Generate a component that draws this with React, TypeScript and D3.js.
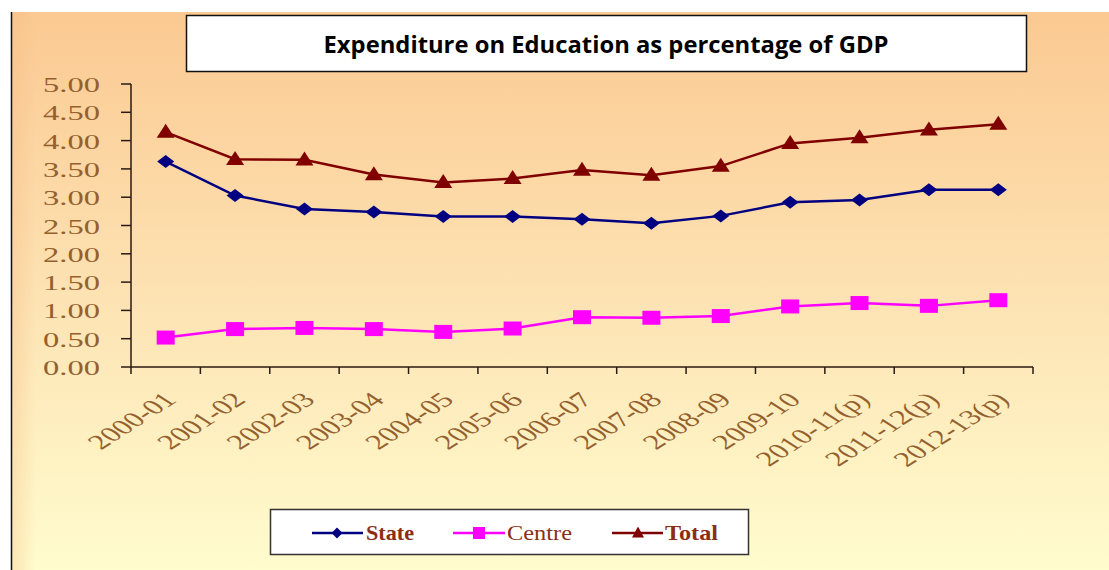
import React from "react";
import * as d3 from "d3";

const categories = ["2000-01","2001-02","2002-03","2003-04","2004-05","2005-06","2006-07","2007-08","2008-09","2009-10","2010-11(p)","2011-12(p)","2012-13(p)"];
const stateValues = [3.63,3.03,2.79,2.74,2.66,2.66,2.61,2.54,2.67,2.91,2.95,3.13,3.13];
const centreValues = [0.52,0.67,0.69,0.67,0.62,0.68,0.88,0.87,0.90,1.07,1.13,1.08,1.18];
const totalValues = [4.15,3.67,3.66,3.40,3.26,3.33,3.48,3.39,3.55,3.95,4.05,4.19,4.29];
const yTicks = [0,0.5,1,1.5,2,2.5,3,3.5,4,4.5,5];
const title = "Expenditure on Education as percentage of GDP";

const W = 1109, H = 570;
const plot = { left: 131, right: 1033, top: 84, bottom: 367 };
const labelColor = "#94602E";
const SX = 1.55;

export default function App() {
  const x = d3.scaleBand<string>().domain(categories).range([plot.left, plot.right]).paddingInner(0).paddingOuter(0);
  const y = d3.scaleLinear().domain([0, 5]).range([plot.bottom, plot.top]);
  const cx = (c: string) => (x(c) as number) + x.bandwidth() / 2;
  const line = d3.line<number>().x((_, i) => cx(categories[i])).y((v) => y(v));

  const diamond = (px: number, py: number, w: number, h: number) =>
    `M${px},${py - h / 2}L${px + w / 2},${py}L${px},${py + h / 2}L${px - w / 2},${py}Z`;
  const tri = (px: number, py: number, w: number, h: number) =>
    `M${px},${py - h * 0.6}L${px + w / 2},${py + h * 0.4}L${px - w / 2},${py + h * 0.4}Z`;

  const tickEdges = d3.range(categories.length + 1).map((i) => plot.left + i * x.bandwidth());

  return (
    <svg width={W} height={H} style={{ position: "absolute", left: 0, top: 0 }}>
      <defs>
        <linearGradient id="bg" x1="0" y1="0" x2="0" y2="1">
          <stop offset="0" stopColor="#FBC992" />
          <stop offset="0.5" stopColor="#FDE2B2" />
          <stop offset="1" stopColor="#FFFCCE" />
        </linearGradient>
        <linearGradient id="lft" x1="0" y1="0" x2="1" y2="0">
          <stop offset="0" stopColor="#F4B880" stopOpacity="0.35" />
          <stop offset="1" stopColor="#F4B880" stopOpacity="0" />
        </linearGradient>
      </defs>
      <rect x={0} y={0} width={W} height={H} fill="#ffffff" />
      <rect x={11} y={12} width={W - 11} height={H - 12} fill="url(#bg)" />
      <rect x={11} y={12} width={25} height={H - 12} fill="url(#lft)" />
      <line x1={11.5} y1={12} x2={11.5} y2={H} stroke="#111" strokeWidth={1.5} />

      {/* Title */}
      <rect x={186.5} y={15.5} width={840} height={56} fill="#fff" stroke="#111" strokeWidth={1.5} />
      <text x={606} y={53} textAnchor="middle" fontFamily="'Open Sans', sans-serif" fontWeight="bold" fontSize={23} fill="#000" textLength={565} lengthAdjust="spacingAndGlyphs">{title}</text>

      {/* Y axis */}
      <line x1={plot.left} y1={plot.top} x2={plot.left} y2={plot.bottom} stroke="#2a1a10" strokeWidth={1.5} />
      {yTicks.map((t) => (
        <g key={t}>
          <line x1={plot.left - 10} y1={y(t)} x2={plot.left} y2={y(t)} stroke="#2a1a10" strokeWidth={1.5} />
          <text transform={`translate(100,${y(t) + 8}) scale(${SX},1)`} textAnchor="end" fontFamily="'Liberation Serif', serif" fontSize={21} fill={labelColor}>{t.toFixed(2)}</text>
        </g>
      ))}

      {/* X axis */}
      <line x1={plot.left} y1={plot.bottom} x2={plot.right} y2={plot.bottom} stroke="#2a1a10" strokeWidth={1.5} />
      {tickEdges.map((e, i) => (
        <line key={i} x1={e} y1={plot.bottom} x2={e} y2={plot.bottom + 7} stroke="#2a1a10" strokeWidth={1.5} />
      ))}
      {categories.map((c) => (
        <text key={c} transform={`translate(${cx(c) + 12},${plot.bottom + 34}) scale(${SX},1) rotate(-45)`} textAnchor="end" fontFamily="'Liberation Serif', serif" fontSize={21} fill={labelColor}>{c}</text>
      ))}

      {/* Lines */}
      <path d={line(totalValues) || ""} fill="none" stroke="#800000" strokeWidth={2.5} />
      <path d={line(stateValues) || ""} fill="none" stroke="#000080" strokeWidth={2.5} />
      <path d={line(centreValues) || ""} fill="none" stroke="#FF00FF" strokeWidth={2.5} />

      {stateValues.map((v, i) => (
        <path key={"s" + i} d={diamond(cx(categories[i]), y(v), 17, 13)} fill="#000080" />
      ))}
      {centreValues.map((v, i) => (
        <rect key={"c" + i} x={cx(categories[i]) - 9} y={y(v) - 7} width={18} height={14} fill="#FF00FF" />
      ))}
      {totalValues.map((v, i) => (
        <path key={"t" + i} d={tri(cx(categories[i]), y(v), 18, 14)} fill="#800000" />
      ))}

      {/* Legend */}
      <rect x={270.5} y={509.5} width={478} height={45} fill="#fff" stroke="#333" strokeWidth={1.5} />
      <line x1={312} y1={533} x2={363} y2={533} stroke="#000080" strokeWidth={2.5} />
      <path d={diamond(337, 533, 11, 11)} fill="#000080" />
      <text x={366} y={540} fontFamily="'Liberation Serif', serif" fontWeight="bold" fontSize={22} fill="#8B2E14" textLength={48} lengthAdjust="spacingAndGlyphs">State</text>

      <line x1={453} y1={533} x2={505} y2={533} stroke="#FF00FF" strokeWidth={2.5} />
      <rect x={473} y={527} width={12} height={12} fill="#FF00FF" />
      <text x={507} y={540} fontFamily="'Liberation Serif', serif" fontSize={22} fill="#8B2E14" textLength={65} lengthAdjust="spacingAndGlyphs">Centre</text>

      <line x1={612} y1={533} x2={663} y2={533} stroke="#800000" strokeWidth={2.5} />
      <path d={tri(638, 533, 12, 11)} fill="#800000" />
      <text x={665} y={540} fontFamily="'Liberation Serif', serif" fontWeight="bold" fontSize={22} fill="#8B2E14" textLength={53} lengthAdjust="spacingAndGlyphs">Total</text>
    </svg>
  );
}
